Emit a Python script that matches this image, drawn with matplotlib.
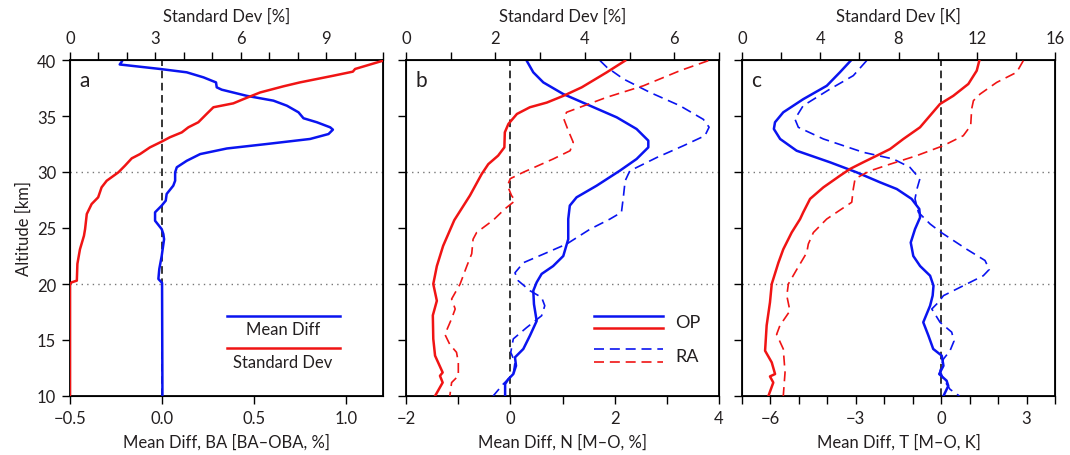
import numpy as np
import matplotlib
matplotlib.use("Agg")
import matplotlib.pyplot as plt

plt.rcParams['font.family'] = ['Lato', 'DejaVu Sans']
plt.rcParams['font.size'] = 12
plt.rcParams['text.color'] = '#231f20'
plt.rcParams['axes.labelcolor'] = '#231f20'
plt.rcParams['xtick.labelcolor'] = '#231f20'
plt.rcParams['ytick.labelcolor'] = '#231f20'

# ---- panel a : bending angle ----
a_md_alt = [39.85, 39.6, 39.2, 38.9, 38.45, 38.0, 37.56, 37.35, 36.8, 36.37, 35.92, 35.33, 34.8,
            34.44, 33.99, 33.78, 33.39, 32.95, 32.5, 32.1, 31.6, 31.0, 30.42, 29.97, 29.22, 28.78,
            28.04, 27.44, 27.0, 26.4, 25.65, 24.9, 24.46, 24.0, 22.5, 21.34, 20.45, 20.1, 10.0]
a_md = [-0.219, -0.23, -0.011, 0.134, 0.225, 0.293, 0.297, 0.324, 0.46, 0.605, 0.678, 0.741, 0.768,
        0.841, 0.913, 0.928, 0.904, 0.804, 0.569, 0.352, 0.207, 0.134, 0.08, 0.071, 0.071, 0.061,
        0.025, 0.02, -0.002, -0.038, -0.038, -0.002, 0.007, 0.011, -0.002, -0.015, -0.02, 0.0, 0.002]
a_sd_alt = [39.94, 39.2, 38.96, 38.6, 38.0, 37.65, 37.1, 36.5, 36.13, 35.78, 35.18, 34.44, 33.99,
            33.54, 33.1, 32.71, 32.2, 31.6, 31.22, 30.56, 29.97, 29.22, 28.63, 27.74, 27.14, 26.25,
            24.9, 24.3, 23.1, 21.8, 20.3, 20.15, 20.0, 10.0]
a_sd = [11.0, 10.02, 9.94, 9.26, 8.08, 7.5, 6.68, 6.09, 5.74, 5.04, 4.8, 4.51, 4.16,
        3.93, 3.51, 3.22, 2.81, 2.46, 2.17, 1.93, 1.70, 1.29, 1.11, 0.99, 0.76, 0.59,
        0.53, 0.49, 0.35, 0.26, 0.24, 0.06, 0.0, 0.0]

# ---- panel b : refractivity ----
b_op_md_alt = [39.94, 38.9, 38.0, 36.96, 35.92, 34.88, 33.84, 32.8, 32.2, 31.16, 30.12, 28.78, 27.74,
               27.0, 25.8, 24.0, 22.5, 21.6, 20.9, 20.15, 19.4, 18.2, 16.7, 15.4, 14.2, 13.45, 12.7,
               11.96, 11.5, 11.07, 10.0]
b_op_md = [0.313, 0.44, 0.632, 1.015, 1.527, 2.04, 2.42, 2.645, 2.645, 2.42, 2.10, 1.655, 1.27,
           1.14, 1.11, 1.11, 1.015, 0.82, 0.60, 0.505, 0.44, 0.453, 0.505, 0.377, 0.249, 0.089, 0.109,
           0.057, -0.039, -0.10, -0.10]
b_op_sd_alt = [39.94, 38.9, 37.56, 36.8, 36.2, 35.78, 35.18, 34.29, 33.54, 32.2, 31.46, 30.7, 29.8,
               27.9, 25.7, 23.4, 21.6, 20.0, 18.5, 17.2, 15.1, 13.6, 12.1, 11.8, 11.2, 10.0]
b_op_sd = [4.90, 4.49, 3.93, 3.52, 3.15, 2.77, 2.48, 2.29, 2.21, 2.20, 2.06, 1.84, 1.69,
           1.43, 1.08, 0.83, 0.69, 0.61, 0.69, 0.60, 0.61, 0.65, 0.82, 0.76, 0.82, 0.65]
b_ra_md_alt = [39.94, 39.35, 38.3, 37.1, 35.92, 34.7, 34.0, 33.24, 32.35, 31.3, 30.1, 29.2, 27.9,
               26.4, 25.8, 24.9, 23.57, 22.8, 21.9, 21.0, 20.3, 19.4, 18.8, 18.06, 17.17, 16.1, 15.1,
               13.9, 13.0, 11.96, 11.07, 10.0]
b_ra_md = [1.72, 1.85, 2.17, 2.68, 3.25, 3.70, 3.81, 3.73, 3.32, 2.81, 2.29, 2.20, 2.17,
           2.13, 1.91, 1.53, 1.08, 0.70, 0.25, 0.089, 0.15, 0.377, 0.60, 0.66, 0.60, 0.31, 0.057,
           0.008, 0.089, 0.057, -0.135, -0.33]
b_ra_sd_alt = [39.94, 39.05, 37.7, 36.67, 35.78, 35.33, 34.73, 33.69, 32.65, 31.9, 31.16, 29.97, 29.4,
               28.78, 27.9, 27.44, 26.7, 25.7, 24.6, 24.0, 22.7, 21.6, 20.0, 18.66, 17.77, 16.9, 15.5,
               14.6, 13.9, 13.0, 11.8, 11.2, 10.0]
b_ra_sd = [6.76, 6.13, 5.31, 4.49, 3.89, 3.59, 3.53, 3.63, 3.74, 3.67, 3.29, 2.62, 2.33,
           2.27, 2.36, 2.44, 2.21, 1.95, 1.58, 1.50, 1.47, 1.36, 1.21, 1.02, 1.10, 1.02, 0.87,
           0.98, 1.13, 1.17, 1.17, 1.02, 0.98]

# ---- panel c : temperature ----
c_op_md_alt = [39.94, 38.9, 37.7, 36.5, 35.33, 34.44, 33.84, 32.95, 31.9, 30.87, 29.97, 29.08, 28.48,
               27.6, 26.7, 25.95, 24.9, 23.7, 22.5, 21.6, 20.74, 19.85, 18.96, 18.06, 16.58, 15.4,
               14.2, 13.6, 12.7, 11.96, 11.37, 10.9, 10.0]
c_op_md = [-3.18, -3.56, -4.02, -4.85, -5.55, -5.84, -5.88, -5.66, -5.08, -3.91, -2.97, -2.15, -1.56,
           -1.04, -0.77, -0.74, -0.92, -1.07, -0.98, -0.74, -0.39, -0.27, -0.30, -0.39, -0.63, -0.45,
           -0.28, 0.02, 0.08, -0.07, 0.19, 0.25, 0.08]
c_op_sd_alt = [39.94, 39.05, 37.86, 36.8, 36.07, 35.03, 33.99, 32.95, 32.05, 31.46, 30.87, 30.27, 29.67,
               28.63, 27.6, 26.4, 25.8, 24.6, 23.1, 21.9, 20.0, 18.36, 16.3, 14.04, 13.0, 11.96,
               11.75, 11.2, 10.0]
c_op_sd = [12.13, 12.0, 11.57, 10.80, 10.12, 9.61, 9.10, 8.25, 7.57, 6.89, 6.20, 5.52, 5.01,
           4.16, 3.48, 3.13, 2.97, 2.54, 2.11, 1.86, 1.52, 1.43, 1.26, 1.18, 1.52, 1.69,
           1.43, 1.60, 1.35]
c_ra_md_alt = [39.94, 38.6, 37.4, 35.92, 34.73, 33.99, 32.95, 31.76, 31.16, 30.42, 29.38, 28.5, 27.6,
               26.4, 25.36, 24.6, 23.1, 22.1, 21.3, 20.74, 19.85, 18.96, 18.36, 17.77, 16.58, 15.7,
               14.9, 14.04, 13.3, 12.26, 11.5, 10.6, 10.0]
c_ra_md = [-2.62, -3.09, -3.91, -4.85, -5.14, -5.02, -4.14, -2.74, -1.68, -1.10, -0.75, -0.85, -0.92,
           -0.80, -0.39, 0.0, 0.90, 1.54, 1.69, 1.48, 0.78, 0.08, -0.10, -0.33, -0.04, 0.37,
           0.45, 0.31, 0.08, -0.04, 0.08, 0.31, 0.64]
c_ra_sd_alt = [39.94, 38.9, 38.0, 36.96, 36.37, 35.63, 34.14, 33.24, 32.35, 31.46, 30.7, 30.1, 29.4,
               28.5, 27.3, 26.4, 25.8, 24.6, 23.57, 22.8, 21.3, 20.0, 18.96, 17.6, 16.3, 15.5,
               14.2, 12.1, 10.0]
c_ra_sd = [14.38, 14.04, 13.02, 12.17, 11.83, 11.74, 11.69, 11.31, 10.29, 8.93, 7.57, 6.54, 5.78,
           5.69, 5.61, 4.84, 4.33, 3.65, 3.39, 3.31, 2.80, 2.37, 2.29, 2.45, 1.94, 1.77,
           2.11, 2.20, 2.11]

BLUE = '#0a14f0'
RED = '#f01414'
LW = 1.8
DASH = (0, (6, 3.5))

fig = plt.figure(figsize=(10.7, 4.56), dpi=100)
lefts = [70, 406, 742]
axw, axb, axh = 313 / 1070, 1 - 397 / 456, 336 / 456


def setup(ax, top, xlim, xticks, xminor, tlim, tticks, tminor, xlabel, tlabel, letter):
    ax.set_ylim(10, 40)
    ax.set_xlim(*xlim)
    ax.set_xticks(xticks)
    ax.set_xticks(xminor, minor=True)
    ax.set_yticks([10, 15, 20, 25, 30, 35, 40])
    ax.tick_params(direction='out', length=6, width=1, which='both', right=False, pad=4)
    ax.set_xlabel(xlabel, labelpad=5)
    top.set_xlim(*tlim)
    top.set_xticks(tticks)
    top.set_xticks(tminor, minor=True)
    top.tick_params(direction='out', length=6, width=1, which='both', pad=4)
    top.set_xlabel(tlabel, labelpad=7)
    top.set_ylim(10, 40)
    for s in ax.spines.values():
        s.set_linewidth(1.3)
    for yv in (20, 30):
        ax.axhline(yv, color='#777777', ls=(0, (1, 3)), lw=1)
    ax.axvline(0, color='black', ls=(0, (5, 3)), lw=1.1)
    ax.text(0.03, 0.94, letter, transform=ax.transAxes, fontsize=15, va='center', ha='left')


# panel a
axa = fig.add_axes([lefts[0] / 1070, axb, axw, axh])
ta = axa.twiny()
setup(axa, ta, (-0.5, 1.2), [-0.5, 0, 0.5, 1.0], [], (0, 11), [0, 3, 6, 9], np.arange(0, 12, 1),
      'Mean Diff, BA [BA\u2013OBA, %]', 'Standard Dev [%]', 'a')
axa.set_xticklabels(['\u22120.5', '0.0', '0.5', '1.0'])
axa.set_ylabel('Altitude [km]', labelpad=4)
axa.plot(a_md, a_md_alt, color=BLUE, lw=LW, zorder=3)
ta.plot(a_sd, a_sd_alt, color=RED, lw=LW, zorder=3)
ta.plot([0.50, 0.863], [0.239, 0.239], color=BLUE, lw=LW, transform=axa.transAxes)
ta.plot([0.50, 0.863], [0.142, 0.142], color=RED, lw=LW, transform=axa.transAxes)
axa.text(0.68, 0.20, 'Mean Diff', transform=axa.transAxes, ha='center', va='center')
axa.text(0.68, 0.10, 'Standard Dev', transform=axa.transAxes, ha='center', va='center')

# panel b
axbp = fig.add_axes([lefts[1] / 1070, axb, axw, axh])
tb = axbp.twiny()
setup(axbp, tb, (-2, 4), [-2, 0, 2, 4], [-1, 1, 3], (0, 7), [0, 2, 4, 6], [1, 3, 5, 7],
      'Mean Diff, N [M\u2013O, %]', 'Standard Dev [%]', 'b')
axbp.set_xticklabels(['\u22122', '0', '2', '4'])
axbp.set_yticklabels([])
axbp.plot(b_op_md, b_op_md_alt, color=BLUE, lw=LW, zorder=3)
axbp.plot(b_ra_md, b_ra_md_alt, color=BLUE, lw=1.2, ls=DASH, zorder=3)
tb.plot(b_op_sd, b_op_sd_alt, color=RED, lw=LW, zorder=3)
tb.plot(b_ra_sd, b_ra_sd_alt, color=RED, lw=1.2, ls=DASH, zorder=3)
tb.plot([0.60, 0.82], [0.239, 0.239], color=BLUE, lw=LW, transform=axbp.transAxes)
tb.plot([0.60, 0.82], [0.201, 0.201], color=RED, lw=LW, transform=axbp.transAxes)
tb.plot([0.60, 0.82], [0.140, 0.140], color=BLUE, lw=1.2, ls=DASH, transform=axbp.transAxes)
tb.plot([0.60, 0.82], [0.100, 0.100], color=RED, lw=1.2, ls=DASH, transform=axbp.transAxes)
axbp.text(0.86, 0.22, 'OP', transform=axbp.transAxes, ha='left', va='center', fontsize=13)
axbp.text(0.86, 0.12, 'RA', transform=axbp.transAxes, ha='left', va='center', fontsize=13)

# panel c
axc = fig.add_axes([lefts[2] / 1070, axb, axw, axh])
tc = axc.twiny()
setup(axc, tc, (-7, 4), [-6, -3, 0, 3], np.arange(-7, 5, 1), (0, 16), [0, 4, 8, 12, 16],
      np.arange(0, 17, 2), 'Mean Diff, T [M\u2013O, K]', 'Standard Dev [K]', 'c')
axc.set_xticklabels(['\u22126', '\u22123', '0', '3'])
axc.set_yticklabels([])
axc.plot(c_op_md, c_op_md_alt, color=BLUE, lw=LW, zorder=3)
axc.plot(c_ra_md, c_ra_md_alt, color=BLUE, lw=1.2, ls=DASH, zorder=3)
tc.plot(c_op_sd, c_op_sd_alt, color=RED, lw=LW, zorder=3)
tc.plot(c_ra_sd, c_ra_sd_alt, color=RED, lw=1.2, ls=DASH, zorder=3)

fig.savefig('out.png', dpi=100)
